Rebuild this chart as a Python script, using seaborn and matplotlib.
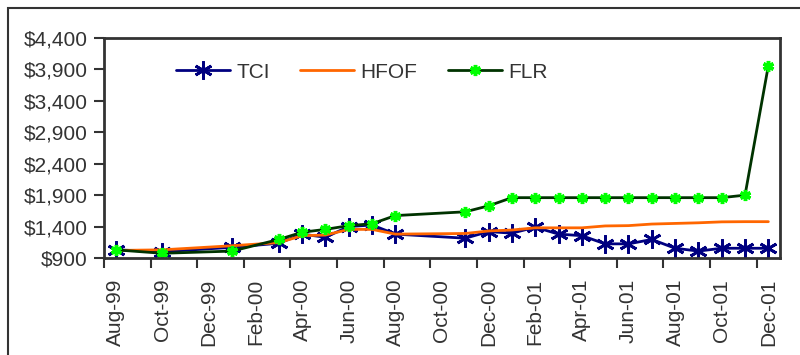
import matplotlib
matplotlib.use("Agg")
import matplotlib.pyplot as plt
import matplotlib.patches as mpatches
import matplotlib.ticker as mticker
import seaborn as sns
import pandas as pd

# ---- data ----
months = ["1999-08", "1999-10", "2000-01", "2000-03", "2000-04", "2000-05",
          "2000-06", "2000-07", "2000-08", "2000-11", "2000-12", "2001-01",
          "2001-02", "2001-03", "2001-04", "2001-05", "2001-06", "2001-07",
          "2001-08", "2001-09", "2001-10", "2001-11", "2001-12"]
tci = [1030, 1000, 1070, 1135, 1280, 1230, 1400, 1425, 1280, 1215, 1320, 1295,
       1390, 1280, 1255, 1125, 1125, 1195, 1055, 1010, 1055, 1055, 1055]
hfof = [1020, 1030, 1095, 1145, 1255, 1265, 1355, 1355, 1280, 1290, 1330, 1345,
        1380, 1380, 1380, 1410, 1415, 1440, 1450, 1460, 1475, 1478, 1478]
flr = [1030, 975, 1010, 1195, 1310, 1355, 1415, 1445, 1575, 1635, 1730, 1860,
       1860, 1860, 1860, 1860, 1860, 1860, 1860, 1860, 1860, 1900, 3960]
tick_labels = ["Aug-99", "Oct-99", "Dec-99", "Feb-00", "Apr-00", "Jun-00",
               "Aug-00", "Oct-00", "Dec-00", "Feb-01", "Apr-01", "Jun-01",
               "Aug-01", "Oct-01", "Dec-01"]
y_ticks = [900, 1400, 1900, 2400, 2900, 3400, 3900, 4400]

start = pd.Period("1999-08", freq="M")
per = pd.PeriodIndex(months, freq="M")
xpos = [(p - start).n + 0.5 for p in per]
df = pd.DataFrame({"x": xpos, "TCI": tci, "HFOF": hfof, "FLR": flr})

sns.set_theme(style="white")
plt.rcParams["font.family"] = ["Liberation Sans", "DejaVu Sans"]
txt = "#333333"

fig = plt.figure(figsize=(8, 3.55), dpi=100)
ax = fig.add_axes([104 / 800, 1 - 258 / 355, 676 / 800, 220 / 355])

# outer chart frame
fig.patches.append(mpatches.Rectangle((8 / 800, -0.2), 1.2, 1 - 8 / 355 + 0.2,
                                      transform=fig.transFigure, fill=False,
                                      edgecolor="#333333", linewidth=1.5))

star = (6, 2, 0)
sns.lineplot(data=df, x="x", y="TCI", ax=ax, color="#000080", linewidth=2,
             marker=star, markersize=13, markeredgewidth=2,
             markeredgecolor="#000080", label="TCI")
sns.lineplot(data=df, x="x", y="HFOF", ax=ax, color="#FF6600", linewidth=2,
             label="HFOF")
sns.lineplot(data=df, x="x", y="FLR", ax=ax, color="#003300", linewidth=2,
             marker=star, markersize=8, markeredgewidth=2.5,
             markeredgecolor="#00FF00", label="FLR")

ax.set_xlim(0, 29)
ax.set_ylim(900, 4400)
ax.set_yticks(y_ticks)
ax.yaxis.set_major_formatter(mticker.FuncFormatter(lambda v, p: f"${v:,.0f}"))
ax.set_xticks(range(0, 29, 2))
ax.set_xticklabels([])
ax.set_xticks([i + 0.5 for i in range(0, 29, 2)], minor=True)
ax.set_xticklabels(tick_labels, minor=True, rotation=90)
ax.tick_params(axis="x", which="major", length=7, width=1.5, color="#333333",
               direction="out", bottom=True)
ax.tick_params(axis="x", which="minor", length=0, pad=15, labelsize=15,
               labelcolor=txt, bottom=True)
ax.tick_params(axis="y", length=7, width=1.5, color="#333333", direction="out",
               left=True, pad=5, labelsize=15, labelcolor=txt)
ax.set_xlabel("")
ax.set_ylabel("")
for s in ax.spines.values():
    s.set_color("#333333")
    s.set_linewidth(2)

leg = ax.legend(loc="center left", bbox_to_anchor=(0.1065, 0.845), ncol=3,
                frameon=False, fontsize=15, handlelength=2.6,
                handletextpad=0.3, columnspacing=1.45, borderpad=0,
                borderaxespad=0)
for t in leg.get_texts():
    t.set_color(txt)

fig.savefig("out.png", dpi=100)
